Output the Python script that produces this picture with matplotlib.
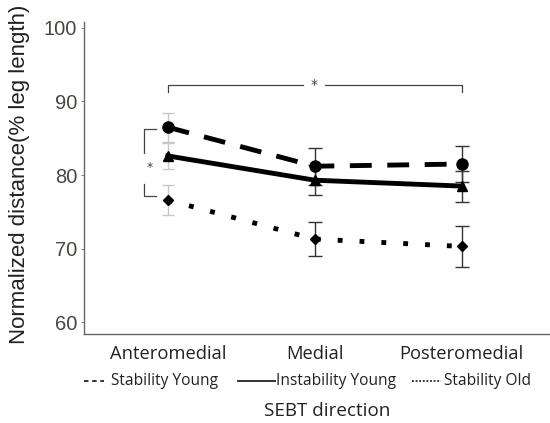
import matplotlib.pyplot as plt
from matplotlib.lines import Line2D

directions = ["Anteromedial", "Medial", "Posteromedial"]
stability_young = [86.5, 81.2, 81.5]
instability_young = [82.6, 79.3, 78.5]
stability_old = [76.6, 71.3, 70.3]
sy_err = [2.0, 2.5, 2.4]
iy_err = [1.8, 2.0, 2.1]
so_err = [2.0, 2.3, 2.8]
y_ticks = [60, 70, 80, 90, 100]

fig = plt.figure(figsize=(5.5, 4.23), dpi=100)
ax = fig.add_axes([84 / 550, 1 - 334 / 423, 1 - 84 / 550, 312 / 423])
x = list(range(len(directions)))

series = [
    (stability_young, sy_err, (0, (4.5, 3.2)), "o", 8),
    (instability_young, iy_err, "-", "^", 7.5),
    (stability_old, so_err, (0, (1, 3.5)), "D", 5.5),
]
for vals, err, ls, mk, ms in series:
    # first point's error bar is drawn faint in the original
    ax.errorbar(x[:1], vals[:1], yerr=err[:1], fmt="none", ecolor="#c8c8c8",
                elinewidth=1, capsize=4, capthick=1, zorder=1)
    ax.errorbar(x[1:], vals[1:], yerr=err[1:], fmt="none", ecolor="#333333",
                elinewidth=1, capsize=5, capthick=1, zorder=1)
    ax.plot(x, vals, color="black", linestyle=ls, linewidth=3.5,
            marker=mk, markersize=ms, zorder=3)

# significance brackets
top = 92.3
ax.plot([0, 0, 0.92], [top - 1.0, top, top], color="#444444", lw=0.9)
ax.plot([1.07, 2, 2], [top, top, top - 1.0], color="#444444", lw=0.9)
ax.text(0.995, top, "*", ha="center", va="center", fontsize=10, color="#444444")
bx = -0.16
ax.plot([bx + 0.08, bx, bx, bx + 0.08], [86.3, 86.3, 77.2, 77.2], color="#444444", lw=0.9)
ax.plot([bx, bx], [82.7, 79.0], color="white", lw=2)
ax.text(bx + 0.035, 81.0, "*", ha="center", va="center", fontsize=9, color="#444444")

ax.set_xlim(-0.57, 2.6)
ax.set_ylim(58.4, 100.8)
ax.set_yticks(y_ticks)
ax.set_yticklabels([str(t) for t in y_ticks], fontsize=14.5, color="#4d4540",
                   family="Liberation Sans")
ax.tick_params(axis="y", length=2, width=0.8, color="#888888", pad=3)
ax.set_xticks(x)
ax.set_xticklabels(directions, fontsize=13.2, family="Open Sans", color="#222222")
ax.tick_params(axis="x", length=0, pad=8)
for s in ["top", "right"]:
    ax.spines[s].set_visible(False)
for s in ["left", "bottom"]:
    ax.spines[s].set_color("#666666")
    ax.spines[s].set_linewidth(1)

fig.text(20 / 550, 1 - 174 / 423, "Normalized distance(% leg length)", rotation=90,
         ha="center", va="center", fontsize=16, family="Liberation Sans", color="#222222")
fig.text(327 / 550, 1 - 411 / 423, "SEBT direction", ha="center", va="center",
         fontsize=13.6, family="Open Sans", color="#222222")

# legend drawn manually
ly = 1 - 381 / 423
legend_items = [
    ((84, 104), (0, (2.5, 2)), "Stability Young", 111),
    ((238, 275), "-", "Instability Young", 276),
    ((412, 441), (0, (1, 1)), "Stability Old", 444),
]
for (x0, x1), ls, label, tx in legend_items:
    fig.add_artist(Line2D([x0 / 550, x1 / 550], [ly, ly], color="#222222",
                          lw=1.3, linestyle=ls, transform=fig.transFigure))
    fig.text(tx / 550, ly, label, ha="left", va="center", fontsize=11.2,
             family="Open Sans", color="#222222")

fig.savefig("out.png", dpi=100)
